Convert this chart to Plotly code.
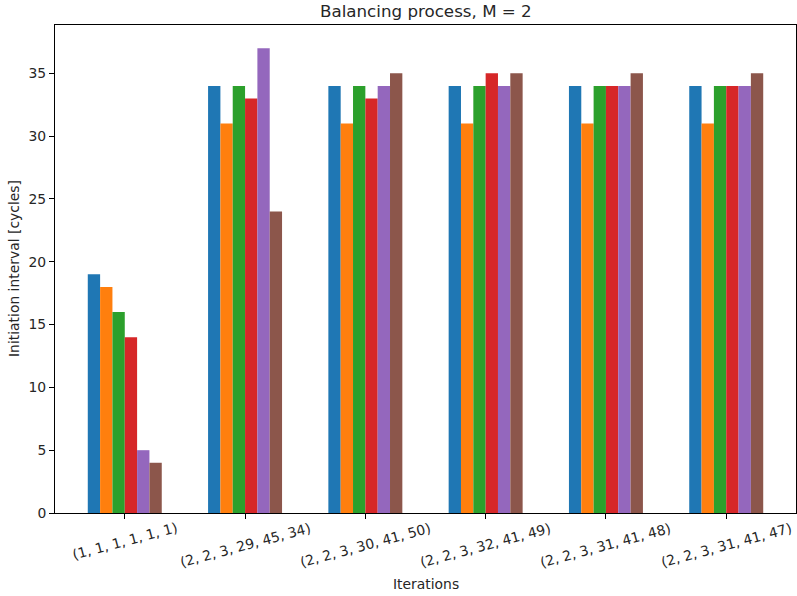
import plotly.graph_objects as go

title = "Balancing process, M = 2"
x_title = "Iterations"
y_title = "Initiation interval [cycles]"
groups = ["(1, 1, 1, 1, 1, 1)", "(2, 2, 3, 29, 45, 34)", "(2, 2, 3, 30, 41, 50)",
          "(2, 2, 3, 32, 41, 49)", "(2, 2, 3, 31, 41, 48)", "(2, 2, 3, 31, 41, 47)"]
s0 = [19, 34, 34, 34, 34, 34]
s1 = [18, 31, 31, 31, 31, 31]
s2 = [16, 34, 34, 34, 34, 34]
s3 = [14, 33, 33, 35, 34, 34]
s4 = [5, 37, 34, 34, 34, 34]
s5 = [4, 24, 35, 35, 35, 35]
series = [s0, s1, s2, s3, s4, s5]
colors = ["#1f77b4", "#ff7f0e", "#2ca02c", "#d62728", "#9467bd", "#8c564b"]
y_ticks = [0, 5, 10, 15, 20, 25, 30, 35]

FONT = "DejaVu Sans"
xpos = list(range(len(groups)))

fig = go.Figure()
for vals, c in zip(series, colors):
    fig.add_trace(go.Bar(x=xpos, y=vals, marker=dict(color=c, line=dict(width=0)),
                         showlegend=False))

ymax = max(max(s) for s in series) * 1.05

fig.update_layout(
    width=797, height=596,
    margin=dict(l=55, r=1, t=25, b=83),
    paper_bgcolor="white", plot_bgcolor="white",
    barmode="group", bargap=0.385, bargroupgap=0,
    font=dict(family=FONT, size=13.9, color="#262626"),
    xaxis=dict(range=[-0.58, 5.58], tickvals=xpos, ticktext=[""] * len(groups),
               showgrid=False, zeroline=False, showline=True, mirror=True,
               linecolor="black", linewidth=1, ticks="outside", ticklen=5,
               tickcolor="black", tickwidth=1),
    yaxis=dict(range=[0, ymax], tickvals=y_ticks, showgrid=False, zeroline=False,
               showline=True, mirror=True, linecolor="black", linewidth=1,
               ticks="outside", ticklen=5, tickcolor="black", tickwidth=1,
               tickfont=dict(family=FONT, size=13.9, color="#262626")),
)

annotations = []
for i, lab in enumerate(groups):
    annotations.append(dict(x=i, y=0, xref="x", yref="paper", text=lab, showarrow=False,
                            textangle=-15, xanchor="center", yanchor="top", yshift=-4,
                            font=dict(family=FONT, size=13.9, color="#262626")))
annotations.append(dict(x=0.5, y=1, xref="paper", yref="paper", text=title, showarrow=False,
                        xanchor="center", yanchor="bottom", yshift=2,
                        font=dict(family=FONT, size=16.7, color="#262626")))
annotations.append(dict(x=0.5, y=0, xref="paper", yref="paper", text=x_title, showarrow=False,
                        xanchor="center", yanchor="middle", yshift=-71,
                        font=dict(family=FONT, size=13.9, color="#262626")))
annotations.append(dict(x=0, y=0.5, xref="paper", yref="paper", text=y_title, showarrow=False,
                        textangle=-90, xanchor="center", yanchor="middle", xshift=-41,
                        font=dict(family=FONT, size=13.9, color="#262626")))
fig.update_layout(annotations=annotations)

fig.write_html("out.html", config={"displayModeBar": False},
               post_script="document.body.style.margin='0';")
